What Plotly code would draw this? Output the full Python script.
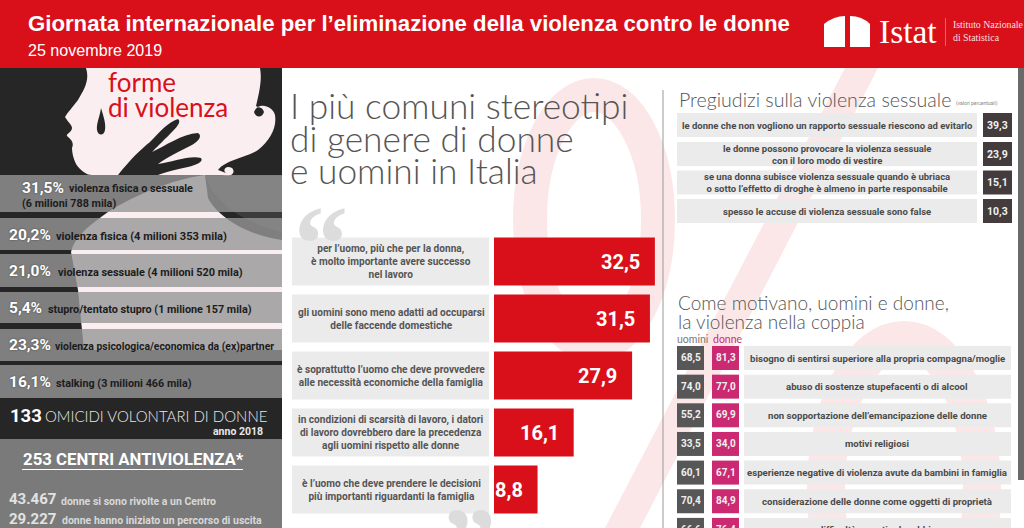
import re
import plotly.graph_objects as go

W, H = 1024, 528

# ---------- data ----------
stereo_labels = [
    "per l’uomo, più che per la donna,<br>è molto importante avere successo<br>nel lavoro",
    "gli uomini sono meno adatti ad occuparsi<br>delle faccende domestiche",
    "è soprattutto l’uomo che deve provvedere<br>alle necessità economiche della famiglia",
    "in condizioni di scarsità di lavoro, i datori<br>di lavoro dovrebbero dare la precedenza<br>agli uomini rispetto alle donne",
    "è l’uomo che deve prendere le decisioni<br>più importanti riguardanti la famiglia",
]
stereo_values = [32.5, 31.5, 27.9, 16.1, 8.8]

prejudice_labels = [
    "le donne che non vogliono un rapporto sessuale riescono ad evitarlo",
    "le donne possono provocare la violenza sessuale<br>con il loro modo di vestire",
    "se una donna subisce violenza sessuale quando è ubriaca<br>o sotto l’effetto di droghe è almeno in parte responsabile",
    "spesso le accuse di violenza sessuale sono false",
]
prejudice_values = ["39,3", "23,9", "15,1", "10,3"]

motive_labels = [
    "bisogno di sentirsi superiore alla propria compagna/moglie",
    "abuso di sostenze stupefacenti o di alcool",
    "non sopportazione dell’emancipazione delle donne",
    "motivi religiosi",
    "esperienze negative di violenza avute da bambini in famiglia",
    "considerazione delle donne come oggetti di proprietà",
    "difficoltà a gestire la rabbia",
]
motive_men = ["68,5", "74,0", "55,2", "33,5", "60,1", "70,4", "66,6"]
motive_women = ["81,3", "77,0", "69,9", "34,0", "67,1", "84,9", "76,4"]

form_values = ["31,5%", "20,2%", "21,0%", "5,4%", "23,3%", "16,1%"]
form_labels = [
    "violenza fisica o sessuale",
    "violenza fisica (4 milioni 353 mila)",
    "violenza sessuale (4 milioni 520 mila)",
    "stupro/tentato stupro (1 milione 157 mila)",
    "violenza psicologica/economica da (ex)partner",
    "stalking (3 milioni 466 mila)",
]

RED = "#d9101a"
PINK = "#fbeef0"
DARK = "#262626"
WM = "#fbe7e8"
BOLD = "Roboto"
LIGHT = "Lato"

shapes, annos = [], []


def fx(x):
    return x / W


def fy(y):
    return 1 - y / H


def rect(x0, y0, x1, y1, color):
    shapes.append(dict(type="rect", xref="paper", yref="paper", layer="below",
                       x0=fx(x0), x1=fx(x1), y0=fy(y1), y1=fy(y0),
                       fillcolor=color, line=dict(width=0)))


def ellipse(x0, y0, x1, y1, line_color, lw):
    shapes.append(dict(type="circle", xref="paper", yref="paper", layer="below",
                       x0=fx(x0), x1=fx(x1), y0=fy(y1), y1=fy(y0),
                       fillcolor="rgba(0,0,0,0)", line=dict(width=lw, color=line_color)))


def path(d, color):
    toks = re.findall(r"[A-Za-z]|-?\d+\.?\d*", d)
    out, isx = [], True
    for t in toks:
        if t.isalpha():
            out.append(t)
            isx = True
        else:
            v = float(t)
            out.append(f"{fx(v):.5f}" if isx else f"{fy(v):.5f}")
            isx = not isx
    s = ""
    i = 0
    while i < len(out):
        t = out[i]
        if t.isalpha():
            s += t + " "
            i += 1
        else:
            s += out[i] + "," + out[i + 1] + " "
            i += 2
    shapes.append(dict(type="path", xref="paper", yref="paper", layer="below", path=s,
                       fillcolor=color, line=dict(width=0)))


def text(x, y, s, size, color, family=BOLD, weight=400, anchor="left", align=None, shadow=None):
    f = dict(size=size, color=color, family=family, weight=weight)
    if shadow:
        f["shadow"] = shadow
    annos.append(dict(xref="paper", yref="paper", x=fx(x), y=fy(y), text=s, showarrow=False,
                      xanchor=anchor, yanchor="middle", align=align or anchor,
                      font=f, borderpad=0))


# ---------- watermark % ----------
ellipse(530, 95, 658, 345, WM, 34)
path("M 845 68 L 878 68 L 640 528 L 605 528 Z", WM)
ellipse(826, 340, 982, 640, WM, 38)

# ---------- header ----------
rect(0, 0, W, 68, RED)
text(27, 24, "<b>Giornata internazionale per l’eliminazione della violenza contro le donne</b>",
     22.2, "white", "Liberation Sans")
text(27, 50, "25 novembre 2019", 16.1, "white", "Liberation Sans")
# logo
path("M 824 47 L 824 24 Q 834 16 845 16 L 845 47 Z", "white")
path("M 850 47 L 850 16 Q 862 16 870 24 L 870 47 Z", "white")
text(878, 31, "Istat", 33.5, "white", "Liberation Serif")
rect(945, 18, 945.6, 46, "#f3a0a4")
text(952, 31, "Istituto Nazionale<br>di Statistica", 9.8, "#fbdfe0", "Liberation Serif")

# ---------- left panel ----------
rect(0, 68, 282, H, DARK)
# head
path("M 86 68 C 90 80 84 90 78 100 C 72 108 68 112 65 117 C 68 122 72 125 72 128 "
     "C 72 132 66 134 67 136 C 72 140 74 143 72 148 C 72 152 73 158 76 164 C 80 170 86 175 92 175 "
     "L 222 175 C 232 178 236 172 232 168 C 226 165 222 170 226 173 L 218 170 C 225 160 245 158 258 150 "
     "C 270 140 277 128 275 115 C 272 105 258 102 254 112 C 256 118 262 118 264 112 C 262 106 258 108 256 106 "
     "C 260 90 262 78 260 68 Z", PINK)
# neck and shoulder
path("M 205 175 C 170 180 135 195 108 212 C 88 226 74 238 71 252 L 78 290 L 84 350 L 282 350 "
     "L 282 240 C 250 236 218 218 208 198 Z", PINK)
# hair shade under ear
path("M 206 176 C 212 200 240 222 282 232 L 282 176 Z", "#3c3c3c")
# hand
path("M 118 175 C 130 160 140 150 150 142 C 160 132 168 122 178 119 C 182 122 176 128 170 134 "
     "C 162 142 156 148 152 152 C 165 146 182 134 198 133 C 203 136 198 142 190 146 "
     "C 178 152 166 158 158 164 C 172 162 190 155 201 158 C 204 162 196 165 188 167 "
     "C 175 170 165 172 158 175 Z", DARK)
# tear
path("M 101 108 C 104 118 106 124 105 130 C 104 136 98 136 97 130 C 96 124 100 116 101 108 Z", DARK)
text(107, 82, "forme", 26, RED, "Lato")
text(107, 107, "di violenza", 26, RED, "Lato")

# translucent bands
band_tops = [175, 218, 254, 292, 329, 365]
band_bots = [212, 250, 287, 323, 361, 398]
for t, b in zip(band_tops, band_bots):
    rect(0, t, 282, b, "rgba(150,150,150,0.8)")
rect(0, 398, 282, 439, DARK)
rect(0, 439, 282, H, "#7a7a7a")

form_x = [21, 8, 8, 8, 8, 8]
form_lx = [68, 55, 57, 47, 54, 55]
form_y = [189, 236, 272, 309, 346, 383]
form_size = [10.8, 11.1, 10.9, 10.8, 10.4, 10.8]
for i in range(6):
    text(form_x[i], form_y[i] - 1, f"<b>{form_values[i]}</b>", 15.5, "white", BOLD,
         shadow="0 0 2px #444")
    text(form_lx[i], form_y[i], f"<b>{form_labels[i]}</b>", form_size[i], "#1c1c1c", BOLD)
text(21, 203, "<b>(6 milioni 788 mila)</b>", 10.8, "#1c1c1c", BOLD)
text(9, 416, "<b>133</b>", 18.5, "white", BOLD)
text(44, 416, "OMICIDI VOLONTARI DI DONNE", 15, "#e8e8e8", LIGHT, weight=300)
text(264, 431, "<b>anno 2018</b>", 10.5, "#e8e8e8", BOLD, anchor="right")
text(22, 459, "<b>253 CENTRI ANTIVIOLENZA*</b>", 16.8, "white", BOLD)
rect(22, 469, 243, 470, "white")
text(8, 499, "<b>43.467</b>", 15, "#e2e2e2", BOLD)
text(60, 501, "<b>donne si sono rivolte a un Centro</b>", 10.5, "#d8d8d8", BOLD)
text(8, 519, "<b>29.227</b>", 15, "#e2e2e2", BOLD)
text(61, 520, "<b>donne hanno iniziato un percorso di uscita</b>", 10.5, "#d8d8d8", BOLD)

# ---------- centre ----------
text(289, 105, "I più comuni stereotipi", 35.3, "#555555", LIGHT, weight=300)
text(289, 138, "di genere di donne", 35.3, "#555555", LIGHT, weight=300)
text(289, 170, "e uomini in Italia", 35.3, "#555555", LIGHT, weight=300)
text(293, 243, "<b>“</b>", 108, "#dcdcdc", "Liberation Serif")
text(441, 545, "<b>”</b>", 108, "#dcdcdc", "Liberation Serif")

ROW0, PITCH, BAR_H = 261.5, 57, 48
for i, lab in enumerate(stereo_labels):
    c = ROW0 + i * PITCH
    rect(292, c - BAR_H / 2, 489, c + BAR_H / 2, "#ebebeb")
    text(391, c, f"<b>{lab}</b>", 10.1, "#555555", BOLD, anchor="center")

BAR_X0, BAR_SCALE = 494, 4.95
bar_x1 = 660
bars = go.Bar(
    x=stereo_values,
    y=list(range(len(stereo_values))),
    orientation="h",
    width=48 / 57,
    marker=dict(color=RED, line=dict(width=0)),
    xaxis="x2", yaxis="y2",
    hoverinfo="x",
)
for i, v in enumerate(stereo_values):
    annos.append(dict(xref="x2", yref="y2", x=v, y=i, xshift=-13, xanchor="right", yanchor="middle",
                      showarrow=False, text=f"<b>{v:.1f}</b>".replace(".", ","),
                      font=dict(size=20, color="white", family=BOLD)))

# ---------- right ----------
rect(662.5, 90, 663.5, H, "#9a9a9a")
rect(1018, 68, W, 480, "#6a6a6a")

text(678, 99, "Pregiudizi sulla violenza sessuale", 19.6, "#555555", LIGHT, weight=300)
text(955, 103, "(valori percentuali)", 5, "#888888", BOLD)
pre_y = [125, 154, 182.5, 211]
for y, lab, val in zip(pre_y, prejudice_labels, prejudice_values):
    rect(677, y - 12, 977, y + 12, "#ebebeb")
    rect(983, y - 12, 1012, y + 12, "#433b3c")
    text(827, y, f"<b>{lab}</b>", 9.5, "#4a4a4a", BOLD, anchor="center")
    text(997.5, y, f"<b>{val}</b>", 10.5, "#f0f0f0", BOLD, anchor="center")

text(677, 302, "Come motivano, uomini e donne,", 19, "#555555", LIGHT, weight=300)
text(677, 321, "la violenza nella coppia", 19, "#555555", LIGHT, weight=300)
text(676, 339, "uomini", 10.5, "#777777", LIGHT)
text(712, 339, "donne", 10.5, "#cb2a72", LIGHT)
for i, (lab, m, d) in enumerate(zip(motive_labels, motive_men, motive_women)):
    y = 358 + i * 28.65
    rect(677, y - 12, 704, y + 12, "#575757")
    rect(712, y - 12, 739, y + 12, "#cb2a72")
    rect(744, y - 12, 1011, y + 12, "#ebebeb")
    text(690.5, y, f"<b>{m}</b>", 10, "#f0f0f0", BOLD, anchor="center")
    text(725.5, y, f"<b>{d}</b>", 10, "#f0f0f0", BOLD, anchor="center")
    text(877, y, f"<b>{lab}</b>", 9.65, "#4a4a4a", BOLD, anchor="center")

fig = go.Figure(bars)
fig.update_layout(
    width=W, height=H, margin=dict(l=0, r=0, t=0, b=0, pad=0, autoexpand=False),
    paper_bgcolor="white", plot_bgcolor="rgba(0,0,0,0)",
    showlegend=False, shapes=shapes, annotations=annos,
    xaxis2=dict(domain=[fx(BAR_X0), fx(bar_x1)], range=[0, (bar_x1 - BAR_X0) / BAR_SCALE],
                visible=False, anchor="y2"),
    yaxis2=dict(domain=[fy(ROW0 + 4.5 * PITCH), fy(ROW0 - 0.5 * PITCH)],
                range=[4.5, -0.5], visible=False, anchor="x2"),
)
fig.write_html("out.html", post_script="document.body.style.margin='0';document.body.style.overflow='hidden';",
               config={"displayModeBar": False})
